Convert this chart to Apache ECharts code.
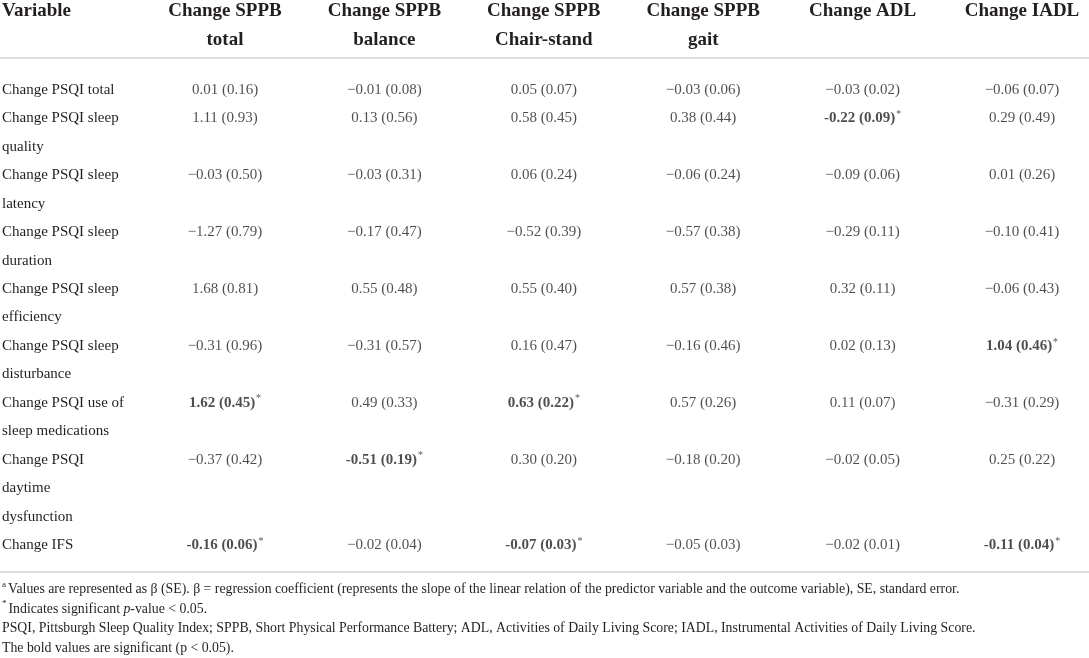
<!DOCTYPE html>
<html>
<head>
<meta charset="utf-8">
<style>
  html, body { margin: 0; padding: 0; background: #fff; }
  #table { width: 1089px; height: 658px; }
</style>
</head>
<body>
<div id="table"></div>
<script src="https://cdn.jsdelivr.net/npm/echarts@6/dist/echarts.min.js"></script>
<script>
// outcome columns (header labels)
var outcomes = ['Change SPPB\ntotal', 'Change SPPB\nbalance', 'Change SPPB\nChair-stand',
                'Change SPPB\ngait', 'Change ADL', 'Change IADL'];
// predictor rows (wrapped as in the table)
var predictors = ['Change PSQI total', 'Change PSQI sleep\nquality', 'Change PSQI sleep\nlatency',
                  'Change PSQI sleep\nduration', 'Change PSQI sleep\nefficiency',
                  'Change PSQI sleep\ndisturbance', 'Change PSQI use of\nsleep medications',
                  'Change PSQI\ndaytime\ndysfunction', 'Change IFS'];

// beta and SE per outcome, one value per predictor
var betaSppbTotal   = [0.01, 1.11, -0.03, -1.27, 1.68, -0.31, 1.62, -0.37, -0.16];
var seSppbTotal     = [0.16, 0.93, 0.50, 0.79, 0.81, 0.96, 0.45, 0.42, 0.06];
var betaSppbBalance = [-0.01, 0.13, -0.03, -0.17, 0.55, -0.31, 0.49, -0.51, -0.02];
var seSppbBalance   = [0.08, 0.56, 0.31, 0.47, 0.48, 0.57, 0.33, 0.19, 0.04];
var betaSppbChair   = [0.05, 0.58, 0.06, -0.52, 0.55, 0.16, 0.63, 0.30, -0.07];
var seSppbChair     = [0.07, 0.45, 0.24, 0.39, 0.40, 0.47, 0.22, 0.20, 0.03];
var betaSppbGait    = [-0.03, 0.38, -0.06, -0.57, 0.57, -0.16, 0.57, -0.18, -0.05];
var seSppbGait      = [0.06, 0.44, 0.24, 0.38, 0.38, 0.46, 0.26, 0.20, 0.03];
var betaAdl         = [-0.03, -0.22, -0.09, -0.29, 0.32, 0.02, 0.11, -0.02, -0.02];
var seAdl           = [0.02, 0.09, 0.06, 0.11, 0.11, 0.13, 0.07, 0.05, 0.01];
var betaIadl        = [-0.06, 0.29, 0.01, -0.10, -0.06, 1.04, -0.31, 0.25, -0.11];
var seIadl          = [0.07, 0.49, 0.26, 0.41, 0.43, 0.46, 0.29, 0.22, 0.04];

// [predictor index, outcome index] of the bold / starred cells
var significant = [[1, 4], [5, 5], [6, 0], [6, 2], [7, 1], [8, 0], [8, 2], [8, 5]];

var footnotes = [
  '{sup|a}Values are represented as β (SE). β = regression coefficient (represents the slope of the linear relation of the predictor variable and the outcome variable), SE, standard error.',
  '{sup|*}Indicates significant {it|p}-value < 0.05.',
  'PSQI, Pittsburgh Sleep Quality Index; SPPB, Short Physical Performance Battery; ADL, Activities of Daily Living Score; IADL, Instrumental Activities of Daily Living Score.',
  'The bold values are significant (p < 0.05).'
];

var betas = [betaSppbTotal, betaSppbBalance, betaSppbChair, betaSppbGait, betaAdl, betaIadl];
var ses   = [seSppbTotal, seSppbBalance, seSppbChair, seSppbGait, seAdl, seIadl];

var FONT = 'Liberation Serif';
var INK = '#231f20';
var NOTE = 13.8;

// every text line of the first column becomes one y category
var lines = [];
var rowStart = [];
predictors.forEach(function (p) {
  rowStart.push(lines.length);
  p.split('\n').forEach(function (l) { lines.push(l); });
});

function isSig(r, c) {
  return significant.some(function (s) { return s[0] === r && s[1] === c; });
}

var cells = [];
for (var c = 0; c < outcomes.length; c++) {
  for (var r = 0; r < predictors.length; r++) {
    var sig = isSig(r, c);
    var b = betas[c][r];
    var sign = b < 0 ? (sig ? '-' : '\u2212') : '';
    var txt = sign + Math.abs(b).toFixed(2) + ' (' + ses[c][r].toFixed(2) + ')';
    cells.push({ value: [c, rowStart[r]], txt: txt, sig: sig });
  }
}

var chart = echarts.init(document.getElementById('table'));
chart.setOption({
  backgroundColor: '#fff',
  animation: false,
  title: [
    {
      text: 'Variable', left: 2, top: 1, padding: 0,
      textStyle: { fontFamily: FONT, fontWeight: 'bold', fontSize: 19, color: INK, lineHeight: 21 }
    },
    {
      text: footnotes.join('\n'), left: 2, top: 580, padding: 0,
      textStyle: {
        fontFamily: FONT, fontWeight: 'normal', fontSize: NOTE, color: INK, lineHeight: 19.5,
        rich: {
          sup: { fontFamily: FONT, fontSize: 9, color: INK, verticalAlign: 'top', lineHeight: 19.5, padding: [0, 2, 0, 0] },
          it: { fontFamily: FONT, fontSize: NOTE, fontStyle: 'italic', color: INK, lineHeight: 19.5 }
        }
      }
    }
  ],
  grid: { left: 225, right: 67, top: 90, bottom: 113, outerBoundsMode: 'none', containLabel: false },
  xAxis: {
    type: 'category',
    position: 'top',
    boundaryGap: false,
    data: outcomes,
    axisLine: { show: false },
    axisTick: { show: false },
    splitLine: { show: false },
    axisLabel: {
      interval: 0,
      margin: 93.5,
      verticalAlign: 'top',
      fontFamily: FONT, fontWeight: 'bold', fontSize: 19, lineHeight: 29, color: INK
    }
  },
  yAxis: {
    type: 'category',
    inverse: true,
    boundaryGap: false,
    data: lines,
    axisLine: { show: false },
    axisTick: { show: false },
    splitLine: { show: false },
    axisLabel: {
      interval: 0,
      align: 'left',
      margin: 223,
      fontFamily: FONT, fontSize: 15, color: INK
    }
  },
  series: [{
    type: 'scatter',
    symbolSize: 0,
    silent: true,
    data: cells,
    label: {
      show: true,
      position: 'inside',
      fontFamily: FONT, fontSize: 15, color: INK,
      formatter: function (p) {
        return p.data.sig ? '{b|' + p.data.txt + '}{s|*}' : p.data.txt;
      },
      rich: {
        b: { fontFamily: FONT, fontSize: 15, fontWeight: 'bold', color: INK, lineHeight: 18 },
        s: { fontFamily: FONT, fontSize: 10, color: INK, verticalAlign: 'top', lineHeight: 18, padding: [0, 0, 0, 1] }
      }
    }
  }],
  graphic: [
    { type: 'line', shape: { x1: 0, y1: 58, x2: 1089, y2: 58 }, style: { stroke: '#d2d2d2', lineWidth: 1.5 } },
    { type: 'line', shape: { x1: 0, y1: 572, x2: 1089, y2: 572 }, style: { stroke: '#d2d2d2', lineWidth: 1.5 } }
  ]
});
</script>
</body>
</html>
